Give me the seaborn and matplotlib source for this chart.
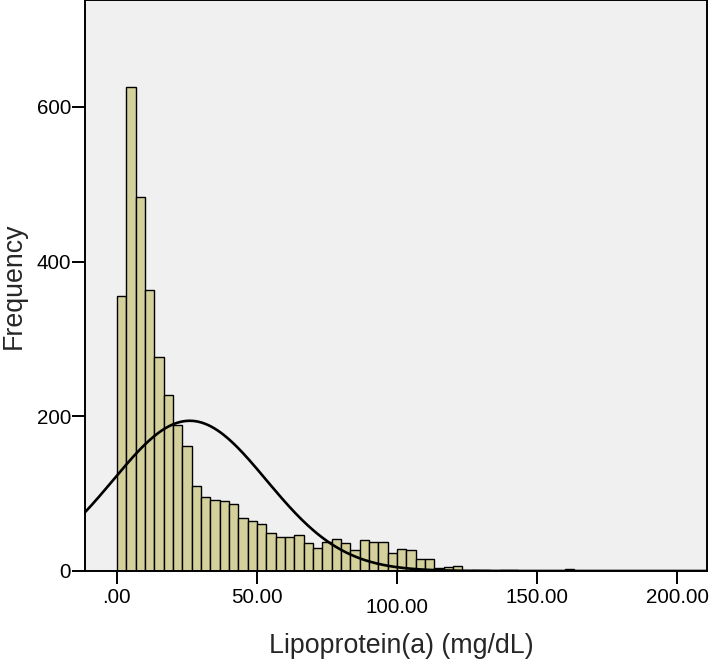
import matplotlib
matplotlib.use("Agg")
import matplotlib.pyplot as plt
import seaborn as sns
import numpy as np
import pandas as pd

# histogram counts, bin width 10/3 starting at 0
bin_width = 10 / 3
counts = [355, 625, 483, 363, 277, 227, 189, 162, 110, 96,
          92, 90, 86, 68, 65, 61, 49, 44, 44, 46,
          36, 30, 38, 41, 36, 27, 40, 37, 38, 23,
          29, 27, 15, 16, 4, 5, 6, 0, 1, 1,
          0, 1, 1, 0, 0, 0, 0, 0, 2]

# normal curve parameters (as drawn by the software)
fit_mean = 26.0
fit_sd = 27.3

x_ticks = [0, 50, 100, 150, 200]
x_tick_labels = ['.00', '50.00', '100.00', '150.00', '200.00']
y_ticks = [0, 200, 400, 600]

bar_color = '#d4d09c'
bg_color = '#f0f0f0'

sns.set_style('white', {'axes.facecolor': bg_color, 'axes.edgecolor': 'black'})
plt.rcParams['font.family'] = ['Liberation Sans', 'DejaVu Sans']

edges = np.arange(len(counts) + 1) * bin_width
df = pd.DataFrame({'lpa': edges[:-1] + bin_width / 2, 'count': counts})

fig = plt.figure(figsize=(7.09, 6.59), dpi=100)
ax = fig.add_axes([85 / 709, 88 / 659, 622 / 709, 571 / 659])

sns.histplot(data=df, x='lpa', weights='count', bins=list(edges), color=bar_color,
             alpha=1, edgecolor='black', linewidth=1.0, ax=ax)

xlim = (-11.4, 210.7)
xs = np.linspace(xlim[0], xlim[1], 400)
n = sum(counts)
ys = n * bin_width * np.exp(-0.5 * ((xs - fit_mean) / fit_sd) ** 2) / (fit_sd * np.sqrt(2 * np.pi))
sns.lineplot(x=xs, y=ys, color='black', linewidth=1.9, ax=ax)

ax.set_xlim(*xlim)
ax.set_ylim(0, 738)
ax.set_xticks(x_ticks)
ax.set_xticklabels(x_tick_labels)
ax.set_yticks(y_ticks)
ax.tick_params(axis='both', direction='out', length=9.5, width=1.4,
               labelsize=14.8, color='black', labelcolor='black',
               bottom=True, left=True)
ax.tick_params(axis='x', pad=2.5)
ax.tick_params(axis='y', pad=0.5)
# the software staggers the middle label
ax.xaxis.get_major_ticks()[2].set_pad(10)

for sp in ax.spines.values():
    sp.set_linewidth(1.4)
    sp.set_color('black')

ax.set_xlabel('Lipoprotein(a) (mg/dL)', fontsize=19.3, va='center')
ax.set_ylabel('Frequency', fontsize=19.3, va='center')
ax.xaxis.set_label_coords(0.509, -0.132)
ax.yaxis.set_label_coords(-0.114, 0.5)

fig.savefig('out.png', dpi=100)
